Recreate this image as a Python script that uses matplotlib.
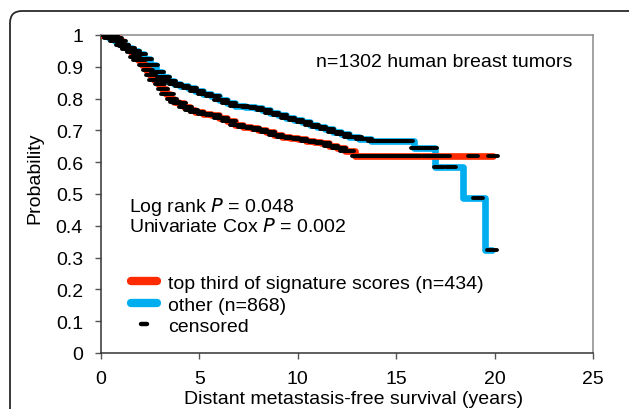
import numpy as np
import matplotlib
matplotlib.use("Agg")
import matplotlib.pyplot as plt
from matplotlib.lines import Line2D
from matplotlib.markers import MarkerStyle
from matplotlib.patches import FancyBboxPatch
from matplotlib.transforms import IdentityTransform

plt.rcParams['font.family'] = ['Liberation Sans', 'DejaVu Sans']

# ---- data ----
red_t = [0.0, 0.7, 0.9, 1.1, 1.3, 1.5, 1.7, 1.9, 2.1, 2.3, 2.5, 2.7, 2.9, 3.1, 3.3, 3.5,
         3.7, 3.9, 4.2, 4.5, 4.8, 5.2, 5.6, 6.0, 6.4, 6.8, 7.2, 7.6, 8.0, 8.4, 8.8, 9.2,
         9.6, 10.0, 10.4, 10.8, 11.2, 11.6, 12.0, 12.4, 12.9, 19.9]
red_s = [1.0, 0.99, 0.98, 0.965, 0.955, 0.945, 0.93, 0.92, 0.905, 0.89, 0.875, 0.86, 0.845,
         0.83, 0.815, 0.80, 0.79, 0.785, 0.775, 0.765, 0.758, 0.752, 0.748, 0.74, 0.728,
         0.718, 0.712, 0.706, 0.70, 0.694, 0.686, 0.68, 0.675, 0.672, 0.668, 0.664, 0.66,
         0.652, 0.645, 0.636, 0.62, 0.62]

blue_t = [0.0, 0.4, 0.7, 1.0, 1.3, 1.6, 1.9, 2.2, 2.5, 2.8, 3.1, 3.4, 3.7, 4.0, 4.4, 4.8,
          5.2, 5.6, 6.0, 6.4, 6.8, 7.3, 7.8, 8.2, 8.6, 9.0, 9.4, 9.8, 10.2, 10.6, 11.0,
          11.4, 11.8, 12.2, 12.6, 13.1, 13.7, 15.9, 16.95, 18.4, 19.5, 19.85]
blue_s = [1.0, 0.99, 0.98, 0.97, 0.96, 0.95, 0.94, 0.925, 0.905, 0.885, 0.868, 0.856, 0.847,
          0.839, 0.832, 0.824, 0.815, 0.807, 0.795, 0.785, 0.778, 0.774, 0.77, 0.765, 0.756,
          0.748, 0.74, 0.733, 0.726, 0.718, 0.712, 0.704, 0.696, 0.688, 0.68, 0.672, 0.666,
          0.644, 0.586, 0.486, 0.325, 0.325]

red_cens = [0.0, 0.25, 0.45, 0.6, 0.8, 1.0, 1.15, 1.3, 1.45, 1.6, 1.75, 1.9, 2.05, 2.2, 2.4,
            2.55, 2.7, 2.85, 3.0, 3.15, 3.3, 3.45, 3.6, 3.75, 3.9, 4.05, 4.2, 4.35, 4.5, 4.65,
            4.8, 5.0, 5.2, 5.4, 5.6, 5.8, 6.0, 6.2, 6.4, 6.6, 6.8, 7.0, 7.2, 7.4, 7.6, 7.8,
            8.0, 8.2, 8.4, 8.6, 8.8, 9.0, 9.2, 9.4, 9.6, 9.8, 10.0, 10.2, 10.4, 10.6, 10.8,
            11.0, 11.2, 11.4, 11.6, 11.8, 12.0, 12.2, 12.4, 12.6, 13.0, 13.2, 13.4, 13.6,
            13.8, 14.0, 14.2, 14.4, 14.8, 15.0, 15.2, 15.4, 15.6, 15.8, 16.0, 16.6, 16.8,
            17.0, 17.2, 17.5, 18.9, 19.9]
blue_cens = [0.0, 0.2, 0.4, 0.55, 0.7, 0.85, 1.0, 1.15, 1.3, 1.45, 1.6, 1.75, 1.9, 2.05,
             2.2, 2.35, 2.5, 2.65, 2.8, 2.95, 3.1, 3.25, 3.4, 3.55, 3.7, 3.85, 4.0, 4.2, 4.4,
             4.6, 4.8, 5.0, 5.2, 5.4, 5.6, 5.8, 6.0, 6.2, 6.4, 6.6, 6.8, 7.0, 7.2, 7.4, 7.6,
             7.8, 8.0, 8.2, 8.4, 8.6, 8.8, 9.0, 9.2, 9.4, 9.6, 9.8, 10.0, 10.2, 10.4, 10.6,
             10.8, 11.0, 11.2, 11.4, 11.6, 11.8, 12.0, 12.2, 12.4, 12.6, 12.8, 13.0, 13.2,
             13.5, 13.8, 14.0, 14.2, 14.4, 14.6, 14.8, 15.0, 15.2, 15.4, 15.6, 16.0, 16.2,
             16.4, 16.6, 16.8, 17.2, 17.8, 19.15, 19.85]

x_ticks = [0, 5, 10, 15, 20, 25]
y_ticks = [0, 0.1, 0.2, 0.3, 0.4, 0.5, 0.6, 0.7, 0.8, 0.9, 1]
y_ticklabels = ['0', '0.1', '0.2', '0.3', '0.4', '0.5', '0.6', '0.7', '0.8', '0.9', '1']

RED = '#FF2A00'
BLUE = '#00AEEF'


def step_value(t_list, s_list, times):
    t = np.asarray(t_list)
    s = np.asarray(s_list)
    idx = np.searchsorted(t, np.asarray(times), side='right') - 1
    return s[np.clip(idx, 0, len(s) - 1)]


W, H = 629, 410
fig = plt.figure(figsize=(W / 100, H / 100), dpi=100)
ax = fig.add_axes([101 / W, 1 - 354 / H, (593 - 101) / W, (354 - 36) / H])

# rounded outer frame (pixel coords)
frame = FancyBboxPatch((10, -30), 650, 428, boxstyle='round,pad=0,rounding_size=12',
                       transform=IdentityTransform(), fill=False, ec='#2a2a2a', lw=1.3,
                       clip_on=False)
fig.patches.append(frame)

lw = 4.8
ax.plot(blue_t, blue_s, drawstyle='steps-post', color=BLUE, lw=lw,
        solid_capstyle='round', solid_joinstyle='round', zorder=2)
ax.plot(red_t, red_s, drawstyle='steps-post', color=RED, lw=lw,
        solid_capstyle='round', solid_joinstyle='round', zorder=3)

cmark = MarkerStyle('_', capstyle='round')
ax.plot(blue_cens, step_value(blue_t, blue_s, blue_cens), ls='none', marker=cmark,
        ms=6.5, mew=2.8, color='black', zorder=4)
ax.plot(red_cens, step_value(red_t, red_s, red_cens), ls='none', marker=cmark,
        ms=6.5, mew=2.8, color='black', zorder=5)

ax.set_xlim(0, 25)
ax.set_ylim(0, 1)
ax.set_xticks(x_ticks)
ax.set_xticklabels([str(v) for v in x_ticks])
ax.set_yticks(y_ticks)
ax.set_yticklabels(y_ticklabels)
ax.tick_params(axis='both', labelsize=14, length=4, width=1, color='#555555')
ax.tick_params(axis='y', pad=9)
ax.tick_params(axis='x', pad=8)

for side in ['left', 'bottom']:
    ax.spines[side].set_color('#333333')
    ax.spines[side].set_linewidth(1.1)
for side in ['top', 'right']:
    ax.spines[side].set_color('#8a8a8a')
    ax.spines[side].set_linewidth(1.1)

ax.set_ylabel('Probability', fontsize=14)
ax.yaxis.set_label_coords(-0.118, 0.553)
ax.set_xlabel('Distant metastasis-free survival (years)', fontsize=14)
ax.xaxis.set_label_coords(0.514, -0.115)

ax.text(0.697, 0.916, 'n=1302 human breast tumors', transform=ax.transAxes,
        ha='center', va='center', fontsize=14)
ax.text(0.056, 0.462, 'Log rank $\\it{P}$ = 0.048', transform=ax.transAxes,
        ha='left', va='center', fontsize=14)
ax.text(0.056, 0.399, 'Univariate Cox $\\it{P}$ = 0.002', transform=ax.transAxes,
        ha='left', va='center', fontsize=14)

handles = [
    Line2D([], [], color=RED, lw=6, solid_capstyle='round'),
    Line2D([], [], color=BLUE, lw=6, solid_capstyle='round'),
    Line2D([], [], ls='none', marker=cmark, ms=4.5, mew=3.2, color='black'),
]
labels = ['top third of signature scores (n=434)', 'other (n=868)', 'censored']
ax.legend(handles, labels, loc='center left', bbox_to_anchor=(0.06, 0.151),
          frameon=False, fontsize=14, handlelength=1.35, handletextpad=0.6,
          labelspacing=0.2, borderpad=0, borderaxespad=0)

fig.savefig('out.png', dpi=100)
